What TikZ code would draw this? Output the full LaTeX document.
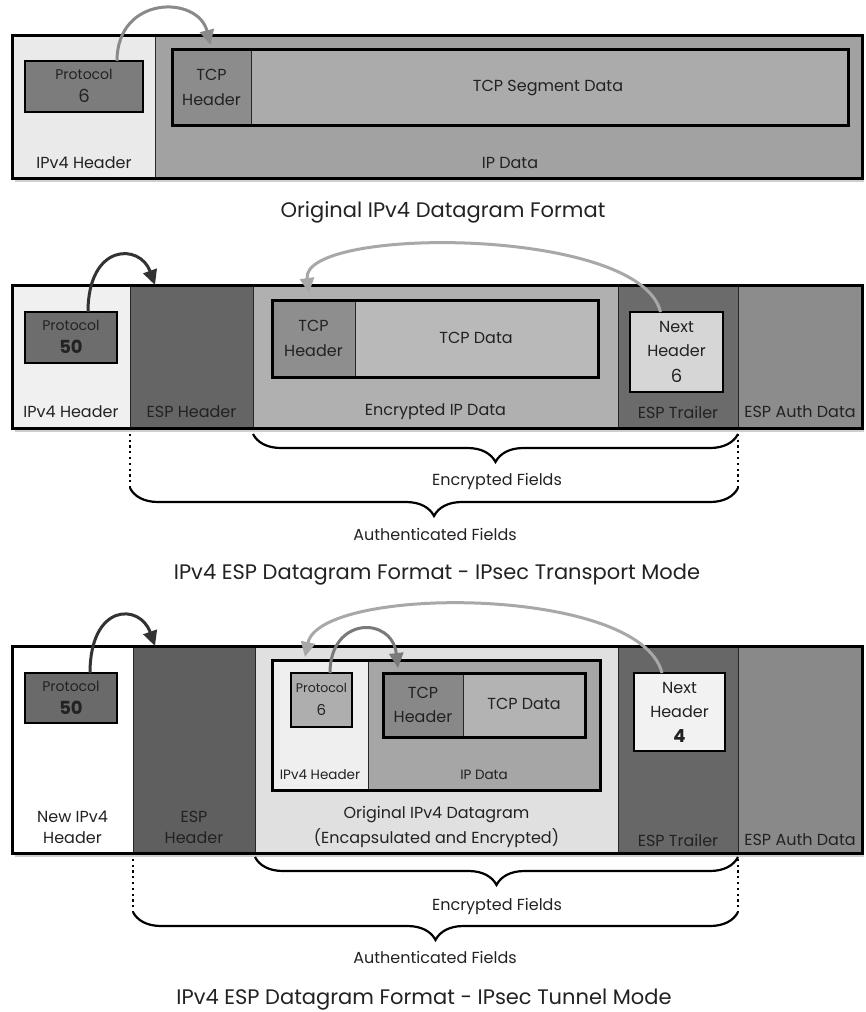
\documentclass[tikz,border=0pt]{standalone}
\usepackage{fontspec}
\setmainfont{Poppins}
\usetikzlibrary{arrows.meta,calc,decorations.pathreplacing}
\definecolor{txt}{HTML}{222222}
\definecolor{sAlight}{HTML}{EAEAEA}
\definecolor{sAgray}{HTML}{A2A2A2}
\definecolor{sAproto}{HTML}{7C7C7C}
\definecolor{sAtcph}{HTML}{8C8C8C}
\definecolor{sAtcpd}{HTML}{ABABAB}
\definecolor{sBhdr}{HTML}{F0F0F0}
\definecolor{sBesph}{HTML}{656565}
\definecolor{sBenc}{HTML}{B0B0B0}
\definecolor{sBtcph}{HTML}{8E8E8E}
\definecolor{sBtcpd}{HTML}{B9B9B9}
\definecolor{sBtrl}{HTML}{6B6B6B}
\definecolor{sBnext}{HTML}{D6D6D6}
\definecolor{sBauth}{HTML}{8C8C8C}
\definecolor{sBproto}{HTML}{6D6D6D}
\definecolor{sChdr}{HTML}{FFFFFF}
\definecolor{sCesph}{HTML}{5F5F5F}
\definecolor{sCorig}{HTML}{E0E0E0}
\definecolor{sCihdr}{HTML}{EFEFEF}
\definecolor{sCidata}{HTML}{A6A6A6}
\definecolor{sCpsix}{HTML}{AEAEAE}
\definecolor{sCtcph}{HTML}{888888}
\definecolor{sCtcpd}{HTML}{B3B3B3}
\definecolor{sCtrl}{HTML}{676767}
\definecolor{sCnext}{HTML}{F2F2F2}
\definecolor{sCauth}{HTML}{898989}
\definecolor{sCproto}{HTML}{6A6A6A}
\definecolor{arrDark}{HTML}{333333}
\definecolor{arrMid}{HTML}{7A7A7A}
\definecolor{arrGray}{HTML}{8A8A8A}
\definecolor{arrLight}{HTML}{A8A8A8}
\definecolor{shadowc}{HTML}{CFCFCF}
\tikzset{
  cell/.style={draw=black!85, line width=0.8pt, inner sep=0pt, outer sep=0pt},
  frame/.style={draw=black, line width=3pt},
  shadowbox/.style={fill=shadowc},
  pbox/.style={draw=black, line width=2.5pt, inner sep=0pt, outer sep=0pt},
  lbl/.style={text=txt, inner sep=0pt, font=\fontsize{16}{19}\selectfont},
  slbl/.style={text=txt, inner sep=0pt, font=\fontsize{13.5}{16}\selectfont},
  plbl/.style={text=txt, inner sep=0pt, font=\fontsize{14}{16}\selectfont},
  nlbl/.style={text=txt, inner sep=0pt, font=\fontsize{18}{20}\selectfont},
  caption/.style={text=txt, inner sep=0pt, font=\fontsize{21}{24}\selectfont},
  arr/.style={line width=3pt, fill=none, -{Triangle[length=15pt,width=14pt]}},
  dotline/.style={line width=2.2pt, dash pattern=on 2.2pt off 3.6pt},
  bracket/.style={decorate, decoration={brace, mirror, amplitude=28pt}, line width=2.2pt}
}
\begin{document}
\begin{tikzpicture}[x=1pt,y=-1pt]
\useasboundingbox (0,0) rectangle (865,1012);
\fill[white] (0,0) rectangle (865,1012);

% soft shadows under the three datagram frames
\fill[shadowbox] (15,40) rectangle (864,182);
\fill[shadowbox] (15,290) rectangle (864,432);
\fill[shadowbox] (15,651) rectangle (864,857);

% ================= Section 1: Original IPv4 datagram
\node[cell, fill=sAlight, minimum width=143pt, minimum height=143pt] (aHdr) at (83.5,106.5) {};
\node[cell, fill=sAgray, minimum width=707pt, minimum height=143pt] (aData) at (508.5,106.5) {};
\draw[frame] (aHdr.north west) rectangle (aData.south east);
\node[pbox, fill=sAproto, minimum width=118pt, minimum height=51pt] (aProto) at (84,86.5) {};
\node[plbl] (aProtoA) at (84,74) {Protocol};
\node[nlbl] (aProtoB) at (84,96) {6};
\node[cell, fill=sAtcpd, draw=none, minimum width=676pt, minimum height=76pt] (aTcp) at (510,87) {};
\node[cell, fill=sAtcph, minimum width=79pt, minimum height=76pt] (aTcpH) at (211.5,87) {};
\draw[frame] (aTcp.north west) rectangle (aTcp.south east);
\node[lbl] (aTcpHA) at (211.5,75) {TCP};
\node[lbl] (aTcpHB) at (211.5,100) {Header};
\node[lbl] (aSeg) at (548,88) {TCP Segment Data};
\node[lbl] (aHdrL) at (84,163) {IPv4 Header};
\node[lbl] (aDataL) at (510,163) {IP Data};
\draw[arr, draw=arrGray] ($(aProto.north)+(33,0)$) .. controls (117,-5) and (198,-5) .. ($(aTcpH.north)+(-1,-4)$);
\node[caption] (aCap) at (443,212) {Original IPv4 Datagram Format};

% ================= Section 2: Transport mode
\node[cell, fill=sBhdr, minimum width=118pt, minimum height=143pt] (bHdr) at (71,356.5) {};
\node[cell, fill=sBesph, minimum width=123pt, minimum height=143pt] (bEsp) at (191.5,356.5) {};
\node[cell, fill=sBenc, minimum width=365pt, minimum height=143pt] (bEnc) at (435.5,356.5) {};
\node[cell, fill=sBtrl, minimum width=120pt, minimum height=143pt] (bTrl) at (678,356.5) {};
\node[cell, fill=sBauth, minimum width=124pt, minimum height=143pt] (bAuth) at (800,356.5) {};
\draw[frame] (bHdr.north west) rectangle (bAuth.south east);
\node[pbox, fill=sBproto, minimum width=92pt, minimum height=51pt] (bProto) at (71,337.5) {};
\node[plbl] (bProtoA) at (71,325) {Protocol};
\node[nlbl, font=\fontsize{18}{20}\selectfont\bfseries] (bProtoB) at (71,347) {50};
\node[cell, fill=sBtcpd, draw=none, minimum width=326pt, minimum height=77pt] (bTcp) at (435,338.5) {};
\node[cell, fill=sBtcph, minimum width=83pt, minimum height=77pt] (bTcpH) at (313.5,338.5) {};
\draw[frame] (bTcp.north west) rectangle (bTcp.south east);
\node[lbl] (bTcpHA) at (313.5,326) {TCP};
\node[lbl] (bTcpHB) at (313.5,351) {Header};
\node[lbl] (bTcpD) at (476,338) {TCP Data};
\node[pbox, fill=sBnext, minimum width=93pt, minimum height=80pt] (bNext) at (676.5,352) {};
\node[lbl] (bNextA) at (676.5,327) {Next};
\node[lbl] (bNextB) at (676.5,351) {Header};
\node[nlbl] (bNextC) at (676.5,376) {6};
\node[lbl] (bHdrL) at (71,412) {IPv4 Header};
\node[lbl] (bEspL) at (191.5,412) {ESP Header};
\node[lbl] (bEncL) at (435.5,412) {Encrypted IP Data};
\node[lbl] (bTrlL) at (678,412) {ESP Trailer};
\node[lbl] (bAuthL) at (800,412) {ESP Auth Data};
\draw[arr, draw=arrDark] ($(bProto.north)+(17,0)$) .. controls (88,243) and (140,243) .. ($(bEsp.north west)+(25,0)$);
\draw[arr, draw=arrLight] ($(bNext.north)+(-16,0)$) .. controls (640,226) and (300,226) .. ($(bTcpH.north west)+(37,-7)$);
\coordinate (bEncA) at (253,434);
\coordinate (bEncB) at (738,434);
\coordinate (bAutA) at (130,488);
\coordinate (bAutB) at (738,488);
\draw[bracket] (bEncA) -- (bEncB);
\draw[dotline] (bEsp.south west) -- (bAutA);
\draw[dotline] (bTrl.south east) -- (bAutB);
\draw[bracket] (bAutA) -- (bAutB);
\node[lbl] (bEncF) at (497,481) {Encrypted Fields};
\node[lbl] (bAutF) at (435,534) {Authenticated Fields};
\node[caption] (bCap) at (437,575) {IPv4 ESP Datagram Format - IPsec Transport Mode};

% ================= Section 3: Tunnel mode
\node[cell, fill=sChdr, minimum width=121pt, minimum height=207pt] (cHdr) at (72.5,749.5) {};
\node[cell, fill=sCesph, minimum width=122pt, minimum height=207pt] (cEsp) at (194,749.5) {};
\node[cell, fill=sCorig, minimum width=363pt, minimum height=207pt] (cOrig) at (436.5,749.5) {};
\node[cell, fill=sCtrl, minimum width=120pt, minimum height=207pt] (cTrl) at (678,749.5) {};
\node[cell, fill=sCauth, minimum width=124pt, minimum height=207pt] (cAuth) at (800,749.5) {};
\draw[frame] (cHdr.north west) rectangle (cAuth.south east);
\node[pbox, fill=sCproto, minimum width=92pt, minimum height=50pt] (cProto) at (71,698) {};
\node[plbl] (cProtoA) at (71,686) {Protocol};
\node[nlbl, font=\fontsize{18}{20}\selectfont\bfseries] (cProtoB) at (71,708) {50};
% inner original datagram
\node[cell, fill=sCidata, draw=none, minimum width=328pt, minimum height=130pt] (cInner) at (436,725) {};
\node[cell, fill=sCihdr, minimum width=96pt, minimum height=130pt] (cIHdr) at (320,725) {};
\draw[frame] (cInner.north west) rectangle (cInner.south east);
\node[pbox, fill=sCpsix, line width=2pt, minimum width=61pt, minimum height=54pt] (cPsix) at (321.5,700) {};
\node[plbl, font=\fontsize{12.5}{14}\selectfont] (cPsixA) at (321.5,688) {Protocol};
\node[nlbl, font=\fontsize{15}{17}\selectfont] (cPsixB) at (321.5,710) {6};
\node[cell, fill=sCtcpd, draw=none, minimum width=202pt, minimum height=64pt] (cTcp) at (484,705) {};
\node[cell, fill=sCtcph, minimum width=80pt, minimum height=64pt] (cTcpH) at (423,705) {};
\draw[frame] (cTcp.north west) rectangle (cTcp.south east);
\node[lbl] (cTcpHA) at (423,693) {TCP};
\node[lbl] (cTcpHB) at (423,717) {Header};
\node[lbl] (cTcpD) at (524,704) {TCP Data};
\node[slbl] (cIHdrL) at (320,775) {IPv4 Header};
\node[slbl] (cIDataL) at (484,775) {IP Data};
\node[pbox, fill=sCnext, minimum width=91pt, minimum height=78pt] (cNext) at (679.5,712) {};
\node[lbl] (cNextA) at (679.5,688) {Next};
\node[lbl] (cNextB) at (679.5,712) {Header};
\node[nlbl, font=\fontsize{18}{20}\selectfont\bfseries] (cNextC) at (679.5,736) {4};
\node[lbl, align=center] (cHdrL) at (72.5,827) {New IPv4\\[2pt]Header};
\node[lbl, align=center] (cEspL) at (194,827) {ESP\\[2pt]Header};
\node[lbl, align=center] (cOrigL) at (436.5,827) {Original IPv4 Datagram\\[5pt](Encapsulated and Encrypted)};
\node[lbl] (cTrlL) at (678,840) {ESP Trailer};
\node[lbl] (cAuthL) at (800,840) {ESP Auth Data};
\draw[arr, draw=arrDark] ($(cProto.north)+(19,0)$) .. controls (90,603) and (140,603) .. ($(cEsp.north west)+(22,0)$);
\draw[arr, draw=arrMid] ($(cPsix.north)+(8.5,0)$) .. controls (330,616) and (392,616) .. ($(cTcpH.north west)+(15,-5)$);
\draw[arr, draw=arrLight] ($(cNext.north)+(-17.5,0)$) .. controls (640,585) and (320,585) .. ($(cInner.north west)+(33,-3)$);
\coordinate (cEncA) at (255,857);
\coordinate (cEncB) at (738,857);
\coordinate (cAutA) at (133,912);
\coordinate (cAutB) at (738,912);
\draw[bracket] (cEncA) -- (cEncB);
\draw[dotline] (cEsp.south west) -- (cAutA);
\draw[dotline] (cTrl.south east) -- (cAutB);
\draw[bracket] (cAutA) -- (cAutB);
\node[lbl] (cEncF) at (497,906) {Encrypted Fields};
\node[lbl] (cAutF) at (435,957) {Authenticated Fields};
\node[caption] (cCap) at (424,1000) {IPv4 ESP Datagram Format - IPsec Tunnel Mode};
\end{tikzpicture}
\end{document}
